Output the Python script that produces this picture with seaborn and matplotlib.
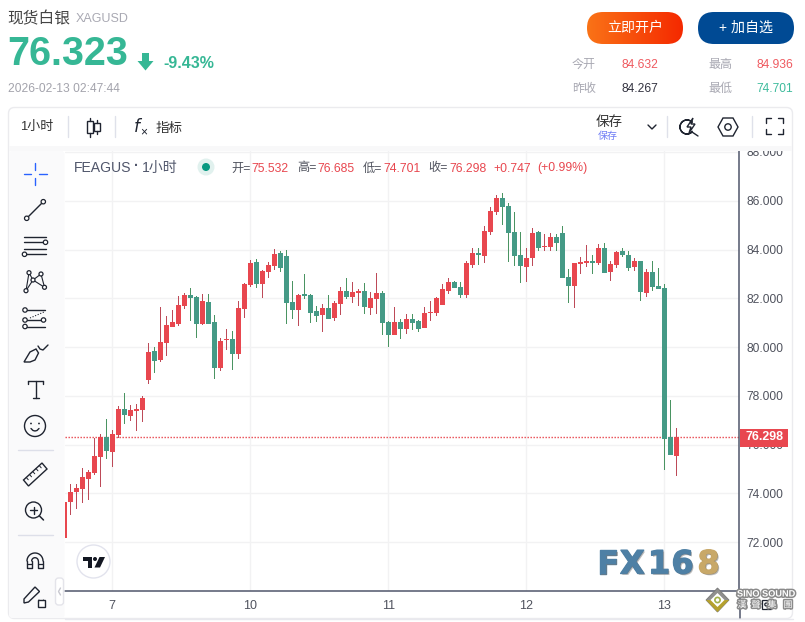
import numpy as np
import pandas as pd
import seaborn as sns
import matplotlib
matplotlib.use("Agg")
import matplotlib.pyplot as plt
from matplotlib.patches import Rectangle, FancyBboxPatch, Circle, Polygon, Wedge, Ellipse
from matplotlib.ticker import FixedLocator, FuncFormatter
import matplotlib.patheffects as pe

opens = [72.18, 73.65, 74.06, 74.19, 74.59, 74.84, 75.50, 76.32, 75.70, 76.40,
         77.46, 77.18, 77.38, 77.42, 78.65, 79.84, 79.47, 80.17, 80.82, 80.95,
         81.68, 82.14, 82.05, 80.95, 81.85, 81.03, 79.14, 80.29, 80.33, 79.72,
         81.56, 82.54, 83.48, 82.59, 83.08, 83.32, 83.85, 83.72, 81.83, 81.51,
         82.16, 82.12, 81.46, 81.30, 81.59, 81.18, 81.75, 82.28, 82.04, 82.20,
         82.28, 81.59, 81.96, 82.20, 81.01, 80.48, 81.01, 80.73, 81.14, 81.05,
         80.77, 81.38, 81.38, 81.71, 82.32, 82.65, 82.45, 82.12, 83.35, 83.84,
         83.72, 84.70, 85.52, 86.10, 85.77, 84.70, 83.76, 83.27, 83.64, 84.70,
         84.09, 84.09, 84.50, 84.66, 82.86, 82.49, 83.39, 83.43, 83.55, 83.43,
         84.05, 83.06, 83.35, 83.92, 83.76, 83.27, 83.51, 82.20, 83.06, 82.49,
         82.41, 76.30, 75.532]
closes = [73.65, 74.06, 74.23, 74.68, 74.88, 75.54, 76.32, 75.74, 76.44, 77.46,
          77.22, 77.42, 77.46, 77.91, 79.80, 79.43, 80.21, 80.91, 81.03, 81.73,
          82.14, 82.01, 80.95, 81.89, 80.95, 79.14, 80.25, 80.33, 79.72, 81.60,
          82.59, 83.44, 82.59, 83.12, 83.36, 83.81, 83.24, 81.79, 81.51, 82.12,
          82.08, 81.38, 81.26, 81.59, 81.14, 81.79, 82.28, 82.04, 82.24, 82.28,
          81.63, 82.00, 82.20, 80.97, 80.48, 81.01, 80.73, 81.14, 80.97, 80.73,
          81.38, 81.42, 82.00, 82.37, 82.65, 82.41, 82.12, 83.43, 83.84, 83.76,
          84.74, 85.56, 86.10, 85.73, 84.66, 83.72, 83.31, 83.64, 84.66, 84.05,
          84.13, 84.50, 84.25, 82.82, 82.49, 83.43, 83.47, 83.55, 83.43, 84.05,
          83.02, 83.39, 83.88, 83.76, 83.23, 83.51, 82.24, 83.06, 82.45, 82.37,
          76.22, 75.56, 76.298]
highs = [73.65, 74.39, 74.39, 75.05, 74.95, 76.28, 76.44, 77.05, 76.60, 77.59,
         78.12, 77.63, 77.67, 78.00, 80.17, 80.00, 81.64, 81.27, 81.52, 82.09,
         82.22, 82.42, 82.09, 82.18, 82.18, 81.32, 80.37, 80.74, 80.66, 81.89,
         82.63, 83.56, 83.60, 83.16, 83.50, 84.01, 83.92, 84.00, 82.73, 82.16,
         82.98, 82.16, 81.67, 81.75, 82.12, 81.87, 82.45, 82.82, 82.65, 82.37,
         82.61, 82.24, 83.02, 82.28, 81.05, 81.63, 81.14, 81.34, 81.34, 81.10,
         81.63, 81.87, 82.04, 82.57, 82.82, 82.73, 82.65, 83.55, 84.05, 84.05,
         84.95, 85.73, 86.22, 86.30, 85.89, 85.52, 84.70, 84.05, 84.87, 84.74,
         84.62, 84.66, 84.62, 84.95, 83.19, 83.43, 83.68, 84.17, 83.76, 84.21,
         84.25, 83.51, 83.96, 84.05, 83.96, 83.64, 83.55, 83.19, 83.51, 83.23,
         82.57, 77.82, 76.685]
lows = [72.18, 73.12, 73.37, 73.61, 73.73, 74.76, 74.27, 75.41, 75.09, 76.29,
        76.85, 76.97, 76.56, 76.93, 78.49, 78.94, 79.39, 79.64, 80.82, 80.86,
        81.56, 81.07, 80.37, 80.91, 80.95, 78.69, 79.02, 79.88, 79.06, 79.51,
        81.19, 82.48, 82.44, 82.01, 82.83, 83.16, 83.07, 80.93, 81.14, 80.85,
        81.96, 80.97, 81.01, 80.60, 81.14, 81.05, 81.30, 81.96, 81.79, 81.67,
        81.34, 81.30, 81.34, 80.48, 79.99, 80.48, 80.32, 80.52, 80.69, 80.60,
        80.77, 81.05, 81.26, 81.71, 82.16, 82.41, 82.00, 82.00, 83.23, 83.35,
        83.43, 84.58, 85.40, 84.99, 83.47, 83.31, 82.61, 82.65, 83.31, 83.92,
        83.96, 83.92, 83.92, 82.82, 81.79, 81.59, 82.98, 83.27, 82.98, 83.35,
        83.02, 82.73, 83.23, 83.68, 83.14, 83.14, 81.87, 82.04, 82.28, 82.37,
        74.95, 75.56, 74.701]
day_labels = ["7", "10", "11", "12", "13"]
day_bars = [8, 31, 54, 77, 100]
price_ticks = [72, 74, 76, 78, 80, 82, 84, 86, 88]
last_close = 76.298

sns.set_style("white")
FONT = ["Liberation Sans", "Noto Sans CJK SC", "DejaVu Sans"]
plt.rcParams["font.family"] = FONT
W, H = 805, 622
PT = 0.72

UP, DOWN, UPW, DOWNW = "#e8474f", "#459a86", "#bd4a58", "#4a9462"
GRID, AXIS, TICK = "#f2f2f3", "#50566b", "#50535e"

df = pd.DataFrame({"bar": range(len(opens)), "o": opens, "h": highs, "l": lows, "c": closes})
df["body"] = (df.c - df.o).abs().clip(lower=0.04)
df["base"] = df[["o", "c"]].min(axis=1)
df["wick"] = df.h - df.l

fig = plt.figure(figsize=(W / 100, H / 100), dpi=100, facecolor="white")
L, R, T, B = 65, 739, 151, 591
ax = fig.add_axes([L / W, 1 - B / H, (R - L) / W, (B - T) / H])
ax.set_axisbelow(True)

for up, body_c, wick_c in ((True, UP, UPW), (False, DOWN, DOWNW)):
    sub = df[(df.c >= df.o) == up]
    sns.barplot(data=sub, x="bar", y="wick", native_scale=True, errorbar=None, color=wick_c,
                saturation=1, width=0.17, bottom=sub.l.values, linewidth=0, ax=ax, zorder=2)
    sns.barplot(data=sub, x="bar", y="body", native_scale=True, errorbar=None, color=body_c,
                saturation=1, width=0.88, bottom=sub.base.values, linewidth=0, ax=ax, zorder=3)

ax.set_xlim(0.117, 112.45)
ax.set_ylim(70.0, 88.04)
ax.set_xlabel("")
ax.set_ylabel("")
ax.xaxis.set_major_locator(FixedLocator(day_bars))
ax.xaxis.set_major_formatter(FuncFormatter(lambda v, p: day_labels[day_bars.index(int(round(v)))]))
ax.yaxis.set_major_locator(FixedLocator(price_ticks))
ax.yaxis.set_major_formatter(FuncFormatter(lambda v, p: f"{v:.3f}"))
ax.yaxis.tick_right()
ax.grid(True, color=GRID, lw=1)
ax.tick_params(axis="x", length=0, pad=6.8, labelsize=12.5 * PT, colors=TICK)
ax.tick_params(axis="y", length=0, pad=5.5, labelsize=12 * PT, colors=TICK)
sns.despine(ax=ax, left=True, top=True, right=False, bottom=False)
ax.spines["right"].set_color(AXIS)
ax.spines["bottom"].set_color(AXIS)
ax.spines["right"].set_linewidth(1.1)
ax.spines["bottom"].set_linewidth(1.1)
ax.axhline(last_close, color=UP, lw=1, dashes=(1.0, 1.16), zorder=1.5)

ov = fig.add_axes([0, 0, 1, 1], zorder=5)
ov.set_xlim(0, W)
ov.set_ylim(H, 0)
ov.axis("off")
ov.patch.set_alpha(0)


def tx(x, y, s, px=12, c="#333333", ha="left", va="center", **k):
    return ov.text(x, y, s, fontsize=px * PT, color=c, ha=ha, va=va, **k)


def ln(xs, ys, c="#1f2430", lw=1.0, **k):
    ov.plot(xs, ys, color=c, lw=lw, solid_capstyle="round", **k)


def dot(x, y, r=2.2, ec="#1f2430", fc="white", lw=0.9):
    ov.add_patch(Ellipse((x, y), 2 * r, 2 * r, fc=fc, ec=ec, lw=lw, zorder=6))


# frames
ov.add_patch(FancyBboxPatch((8.5, 107.5), 784, 511, boxstyle="round,pad=0,rounding_size=6",
                            fc="none", ec="#ebebee", lw=1))
ov.add_patch(Rectangle((9, 146), 783, 5, fc="#f8f8f9", ec="none"))
ov.add_patch(FancyBboxPatch((9, 151), 55.5, 467, boxstyle="round,pad=0,rounding_size=3",
                            fc="#fafafb", ec="none"))
ln([739.5, 739.5], [591, 618], c=AXIS, lw=1.1)
ln([65, 793], [618.5, 618.5], c="#e9e9ee", lw=1)

# header
tx(7.5, 19, "现货白银", 15.7, "#444444")
tx(76, 19.5, "XAGUSD", 12.5, "#a9a9b3")
tx(7.5, 54, "76.323", 39.5, "#36b795", fontweight="bold")
ov.add_patch(Polygon([(142, 53), (149, 53), (149, 61), (153.5, 61), (145.5, 70.5), (137.5, 61), (142, 61)],
                     fc="#36b795", ec="none"))
tx(163, 63, "-9.43%", 16, "#36b795", fontweight="bold")
tx(8, 89, "2026-02-13 02:47:44", 12, "#a3a3ac")

# buttons
btn1 = FancyBboxPatch((587, 12), 96, 32, boxstyle="round,pad=0,rounding_size=16", fc="none", ec="none")
ov.add_patch(btn1)
grad = np.linspace(0, 1, 128).reshape(1, -1, 1)
rgb = (1 - grad) * np.array([0.98, 0.45, 0.09]) + grad * np.array([0.96, 0.16, 0.0])
im = ov.imshow(rgb, extent=(587, 683, 44, 12), aspect="auto", zorder=2)
im.set_clip_path(btn1)
ov.set_xlim(0, W)
ov.set_ylim(H, 0)
ov.add_patch(FancyBboxPatch((698, 12), 96, 32, boxstyle="round,pad=0,rounding_size=16", fc="#004a94", ec="none"))
tx(635, 28, "立即开户", 14, "white", ha="center", zorder=3)
tx(746, 28, "+ 加自选", 14, "white", ha="center", zorder=3)

# stats
GL = "#a8a8b2"
tx(572, 65, "今开", 12, GL)
tx(621, 65.5, "84.632", 12, "#ef5a60")
tx(708, 65, "最高", 12, GL)
tx(756, 65.5, "84.936", 12, "#ef5a60")
tx(572, 89, "昨收", 12, GL)
tx(621, 89.5, "84.267", 12, "#333340")
tx(708, 89, "最低", 12, GL)
tx(756, 89.5, "74.701", 12, "#3dbb9c")

# toolbar
tx(20, 127, "1小时", 13, "#333333")
for xd in (68, 115, 666.5, 751.5):
    ln([xd, xd], [116, 137], c="#dfe1ea", lw=1)
for x0, y0, y1, w0, w1 in ((89.5, 121, 133, 118, 137), (96.5, 123, 131, 120, 134)):
    ov.add_patch(Rectangle((x0 - 3, y0), 6, y1 - y0, fc="white", ec="#1f2430", lw=1))
    ln([x0, x0], [w0, y0], lw=1)
    ln([x0, x0], [y1, w1], lw=1)
tx(133, 126, "$f$", 17, "#1f2430")
tx(140.5, 132, "×", 12, "#1f2430")
tx(156, 127.5, "指标", 13.5, "#333333")
tx(596, 122, "保存", 13.5, "#333333")
tx(598, 136.5, "保存", 10, "#6f7df5")
ln([648, 652, 656], [125, 129, 125], lw=1)
ov.add_patch(Wedge((687, 127), 7, 40, 320, width=0.01, fc="none", ec="#1f2430", lw=1))
ov.add_patch(Polygon([(693, 118), (687, 127), (691, 127), (689, 133), (695, 124), (691, 124)], fc="white", ec="#1f2430", lw=1))
ln([692, 698], [132, 136], lw=1)
ov.add_patch(Polygon([(718, 127), (723, 118), (733, 118), (738, 127), (733, 136), (723, 136)], fc="none", ec="#1f2430", lw=1))
ov.add_patch(Circle((728, 127), 3.2, fc="none", ec="#1f2430", lw=1))
for xs, ys in (([766, 766, 771], [123, 118, 118]), ([778, 783, 783], [118, 118, 123]),
               ([766, 766, 771], [129, 134, 134]), ([778, 783, 783], [134, 134, 129])):
    ln(xs, ys, lw=1)

# legend line
tx(74, 168, "FEAGUS", 14, "#50566b")
tx(134, 166, "·", 14, "#50566b", fontweight="bold")
tx(142, 168, "1小时", 14, "#50566b")
ov.add_patch(Circle((206, 167), 8.5, fc="#e1f1ee", ec="none"))
ov.add_patch(Circle((206, 167), 4, fc="#089981", ec="none"))
R_ = "#e8474f"
for x, s, c in ((231, "开=", TICK), (251.7, "75.532", R_), (297, "高=", TICK), (317.7, "76.685", R_),
                (362.7, "低=", TICK), (383.3, "74.701", R_), (428.3, "收=", TICK), (449, "76.298", R_),
                (493.3, "+0.747", R_), (537.3, "(+0.99%)", R_)):
    tx(x, 168.5, s, 12.2, c)

# last price tag
ov.add_patch(Rectangle((740, 429), 48, 17.5, fc=UP, ec="none", zorder=4))
tx(764.5, 437.5, "76.298", 12.5, "white", ha="center", fontweight="bold", zorder=5)

# left tools
INK = "#1f2430"
BL = "#2962ff"
for xs, ys in (([24, 31], [174, 174]), ([39, 47], [174, 174]), ([35, 35], [163, 170]), ([35, 35], [178, 185])):
    ln(xs, ys, c=BL, lw=1)
ln([26.7, 43.3], [218.3, 201.7], lw=1)
dot(26.7, 218.3)
dot(43.3, 201.7)
for y in (236.7, 242.3, 249, 254.3):
    ln([24, 46], [y, y], lw=1)
dot(45.5, 242.3)
dot(24.5, 254.3)
net = [(29, 272.7), (41, 274), (33, 280), (26, 290.7), (44.5, 287.3)]
for a, b in ((0, 2), (0, 3), (1, 2), (1, 4), (2, 3), (2, 4)):
    ln([net[a][0], net[b][0]], [net[a][1], net[b][1]], lw=0.8)
for p in net:
    dot(p[0], p[1], r=2)
for y in (310, 320, 326.5):
    ln([24, 45], [y, y], lw=1)
ln([30, 44], [318, 312], lw=0.8, ls=(0, (1, 1.5)))
dot(25, 310)
dot(25, 320)
dot(25, 326.5)
dot(43.5, 320)
ov.add_patch(Polygon([(24, 362), (30, 352), (36, 349), (38.5, 353), (35, 360), (30, 362)], fc="none", ec=INK, lw=1))
ln([38, 40, 43, 48], [346, 349, 350, 345], lw=1)
ln([28, 43], [381, 381], lw=1)
ln([35.5, 35.5], [381, 398], lw=1)
ln([32.5, 38.5], [398, 398], lw=1)
ln([28, 28], [381, 383.5], lw=1)
ln([43, 43], [381, 383.5], lw=1)
ov.add_patch(Circle((35, 426), 10.5, fc="none", ec=INK, lw=1))
ov.add_patch(Circle((31, 423.5), 0.9, fc=INK, ec="none"))
ov.add_patch(Circle((39, 423.5), 0.9, fc=INK, ec="none"))
ln(np.array([31, 33, 35, 37, 39]), np.array([428.5, 430.5, 431, 430.5, 428.5]), lw=1)
ln([17.5, 53], [450, 450], c="#dddfe9", lw=1)
ov.add_patch(Polygon([(23.5, 480), (42, 463), (47, 469), (28.5, 486)], fc="none", ec=INK, lw=1))
for t in np.linspace(0.15, 0.85, 5):
    x0, y0 = 23.5 + 18.5 * t, 480 - 17 * t
    ln([x0, x0 + 2], [y0, y0 + 2.3], lw=0.7)
ov.add_patch(Circle((33.5, 510), 8, fc="none", ec=INK, lw=1))
ln([39.5, 43.5], [516, 520], lw=1.1)
ln([30, 37], [510, 510], lw=1)
ln([33.5, 33.5], [506.5, 513.5], lw=1)
ln([17.5, 53], [535, 535], c="#dddfe9", lw=1)
th = np.linspace(np.pi, 0, 40)
ln(35 + 8 * np.cos(th), 561 - 8 * np.sin(th), lw=1)
ln(35 + 3.3 * np.cos(th), 561 - 3.3 * np.sin(th), lw=1)
ln([27, 27, 31.7, 31.7], [561, 568, 568, 561], lw=1)
ln([38.3, 38.3, 43, 43], [561, 568, 568, 561], lw=1)
ln([27, 31.7], [564, 564], lw=0.9)
ln([38.3, 43], [564, 564], lw=0.9)
ov.add_patch(Polygon([(24, 599), (35, 587), (39.5, 591.5), (28.5, 602), (24, 603)], fc="none", ec=INK, lw=1))
ov.add_patch(Rectangle((37.5, 600), 7.5, 6.5, fc="white", ec=INK, lw=1, zorder=6))
ov.add_patch(Wedge((41.2, 600), 2.3, 0, 180, width=0.01, fc="none", ec=INK, lw=0.9))
ov.add_patch(FancyBboxPatch((55.5, 578), 8, 27, boxstyle="round,pad=0,rounding_size=3", fc="white", ec="#e4e4ea", lw=1, zorder=6))
ln([60.5, 58.5, 60.5], [588, 591.5, 595], c="#c8c8d0", lw=1, zorder=7)

# TV logo
ov.add_patch(Circle((93.5, 561.5), 16.5, fc="white", ec="#e2e3ed", lw=1))
ov.add_patch(Polygon([(83, 557), (92, 557), (92, 567.5), (87.5, 567.5), (87.5, 561), (83, 561)], fc="#131722", ec="none"))
ov.add_patch(Circle((95, 559), 2, fc="#131722", ec="none"))
ov.add_patch(Polygon([(99.5, 557), (105, 557), (100, 567.5), (94.5, 567.5)], fc="#131722", ec="none"))

# FX168 watermark
for x, s, c in ((597, "F", "#4e80a5"), (620, "X", "#4e80a5"), (648, "1", "#4e80a5"), (671.5, "6", "#4e80a5"), (697.5, "8", "#c8a868")):
    t = tx(x, 565, s, 32, c, fontweight="bold", family=["DejaVu Sans"])
    t.set_path_effects([pe.Stroke(linewidth=1.0, foreground=c), pe.withSimplePatchShadow(offset=(1, -1), shadow_rgbFace="#777777", alpha=0.5), pe.Normal()])
ov.add_patch(Polygon([(717.5, 588), (729, 600), (717.5, 612), (706, 600)], fc="#8f8f8f", ec="#777777", lw=0.6))
ov.add_patch(Polygon([(717.5, 600), (729, 600), (717.5, 612), (706, 600)], fc="#b5a12e", ec="none"))
ov.add_patch(Polygon([(717.5, 593), (724.5, 600), (717.5, 607), (710.5, 600)], fc="white", ec="none"))
ov.add_patch(Circle((717.5, 600), 2.6, fc="none", ec="#a2b04a", lw=1.2))
halo = [pe.Stroke(linewidth=2.2, foreground="#8a8a8a"), pe.Normal()]
tx(737, 594, "SINO SOUND", 9.2, "white", fontweight="bold", path_effects=halo)
for x, s in ((742, "漢"), (756, "聲"), (772, "集"), (788, "團")):
    tx(x, 605, s, 9, "white", ha="center", path_effects=halo)
ov.add_patch(Rectangle((762, 600), 8.5, 9, fc="none", ec=INK, lw=0.9))
ov.add_patch(Circle((766.3, 604.5), 1.5, fc="none", ec=INK, lw=0.9))

fig.savefig("out.png", dpi=100)
